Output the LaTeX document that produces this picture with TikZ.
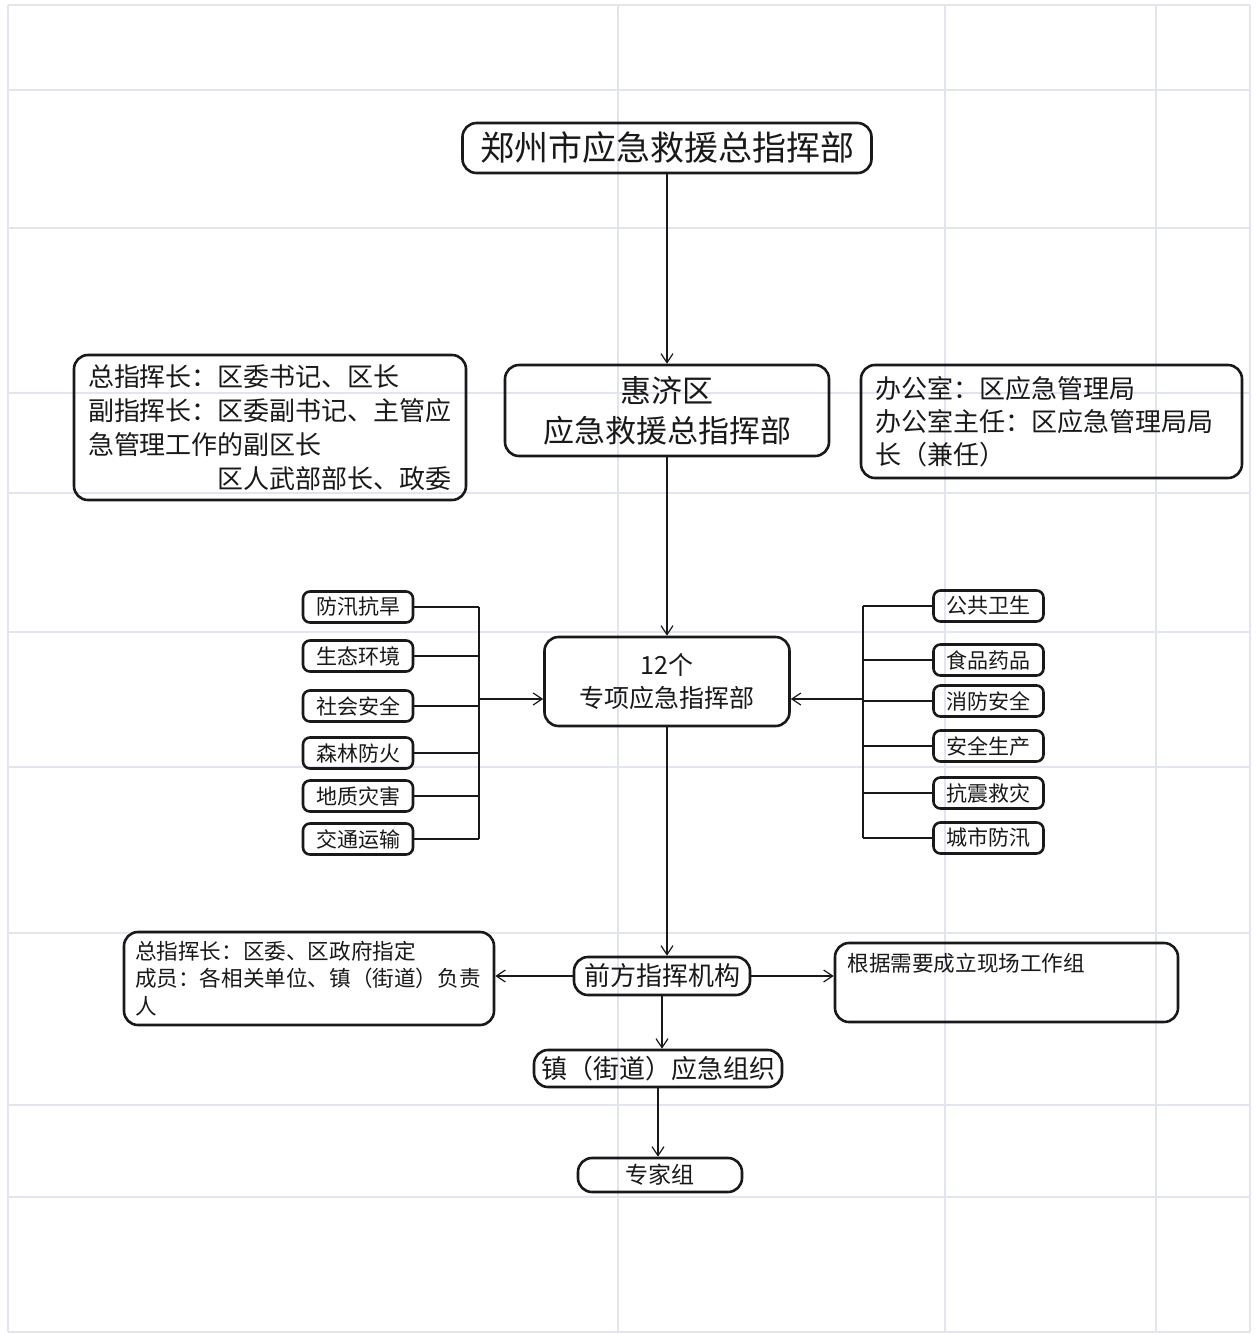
\documentclass[tikz,border=0pt]{standalone}
\usepackage{fontspec}
\setmainfont{Noto Sans CJK SC}
\usetikzlibrary{arrows.meta}
\newcommand{\fsz}[2]{\fontsize{#1pt}{#2pt}\selectfont}
\definecolor{ghost}{RGB}{226,228,238}
\definecolor{ink}{RGB}{25,25,25}
\begin{document}
\begin{tikzpicture}[x=0.5pt,y=-0.5pt,
  box/.style={draw=ink, line width=1.3pt, rounded corners=7pt, inner sep=0pt, align=center, text=ink},
  sbox/.style={box, rounded corners=3.5pt, minimum width=55pt, minimum height=15.5pt, font=\fsz{10.5}{12}},
  conn/.style={line width=0.6pt, draw=ink},
  arr/.style={conn, -{Straight Barb[length=4.5pt,width=6pt]}},
  tline/.style={draw=ghost, line width=1pt}
]
\useasboundingbox (0,0) rectangle (1258,1335);
\fill[white] (0,0) rectangle (1258,1335);
% faint table lines showing through
\foreach \yy in {5,90,228,393,493,632,767,933,1105,1197,1332}
  \draw[tline] (8,\yy) -- (1250,\yy);
\foreach \xx in {8,618,945,1156,1250}
  \draw[tline] (\xx,5) -- (\xx,1332);

% main column
\node[box, minimum width=204.5pt, minimum height=25pt, font=\fsz{17}{20}] (top) at (667,148) {郑州市应急救援总指挥部};
\node[box, minimum width=162pt, minimum height=45.5pt, font=\fsz{15.5}{20}] (hj) at (667,410.5) {惠济区\\应急救援总指挥部};
\node[box, minimum width=196pt, minimum height=72.5pt, text width=182pt, align=left, font=\fsz{13}{17}] (lbox) at (270,427.5)
  {总指挥长：区委书记、区长\\副指挥长：区委副书记、主管应\\急管理工作的副区长\\\hspace*{0pt plus 1filll}区人武部部长、政委};
\node[box, minimum width=190.5pt, minimum height=56.5pt, text width=176pt, align=left, font=\fsz{13}{16.5}] (rbox) at (1051.5,421.5)
  {办公室：区应急管理局\\办公室主任：区应急管理局局\\长（兼任）};
\node[box, minimum width=122.5pt, minimum height=44.5pt, font=\fsz{12.5}{16.5}] (zx) at (667,681.5) {12个\\专项应急指挥部};

% left special groups
\node[sbox] (l1) at (358,607) {防汛抗旱};
\node[sbox] (l2) at (358,656) {生态环境};
\node[sbox] (l3) at (358,706) {社会安全};
\node[sbox] (l4) at (358,753) {森林防火};
\node[sbox] (l5) at (358,796) {地质灾害};
\node[sbox] (l6) at (358,839) {交通运输};
% right special groups
\node[sbox] (r1) at (988.5,606) {公共卫生};
\node[sbox] (r2) at (988.5,660) {食品药品};
\node[sbox] (r3) at (988.5,701) {消防安全};
\node[sbox] (r4) at (988.5,746) {安全生产};
\node[sbox] (r5) at (988.5,793) {抗震救灾};
\node[sbox] (r6) at (988.5,838) {城市防汛};

% lower part
\node[box, minimum width=88pt, minimum height=19pt, font=\fsz{13}{15}] (qf) at (662,976) {前方指挥机构};
\node[box, minimum width=185pt, minimum height=46.5pt, text width=174pt, align=left, font=\fsz{10.8}{13.75}] (llb) at (309,978.5)
  {总指挥长：区委、区政府指定\\成员：各相关单位、镇（街道）负责\\人};
\node[box, minimum width=171.5pt, minimum height=39.5pt] (rrb) at (1006.5,982.5) {};
\node[anchor=west, inner sep=0pt, font=\fsz{10.8}{13}, text=ink] (rrbt) at (847,963) {根据需要成立现场工作组};
\node[box, minimum width=124pt, minimum height=18.5pt, font=\fsz{13}{15}] (zj) at (658,1068.5) {镇（街道）应急组织};
\node[box, minimum width=82pt, minimum height=17pt, font=\fsz{11.5}{13}] (zjz) at (660,1175) {专家组};

% connectors
\draw[arr] (top) -- (hj);
\draw[arr] (hj) -- (zx);
\coordinate (lm) at (479,699);
\coordinate (rm) at (863,699);
\foreach \n in {l1,l2,l3,l4,l5,l6}
  \draw[conn] (\n.east) -- (\n.east -| lm);
\draw[conn] (l1.east -| lm) -- (l6.east -| lm);
\draw[arr] (lm) -- (lm -| zx.west);
\foreach \n in {r1,r2,r3,r4,r5,r6}
  \draw[conn] (\n.west) -- (\n.west -| rm);
\draw[conn] (r1.west -| rm) -- (r6.west -| rm);
\draw[arr] (rm) -- (rm -| zx.east);
\draw[arr] (zx.south) -- (zx.south |- qf.north);
\draw[arr] (qf.west) -- (qf.west -| llb.east);
\draw[arr] (qf.east) -- (qf.east -| rrb.west);
\draw[arr] (qf.south) -- (qf.south |- zj.north);
\draw[arr] (zj.south) -- (zj.south |- zjz.north);
\end{tikzpicture}
\end{document}
